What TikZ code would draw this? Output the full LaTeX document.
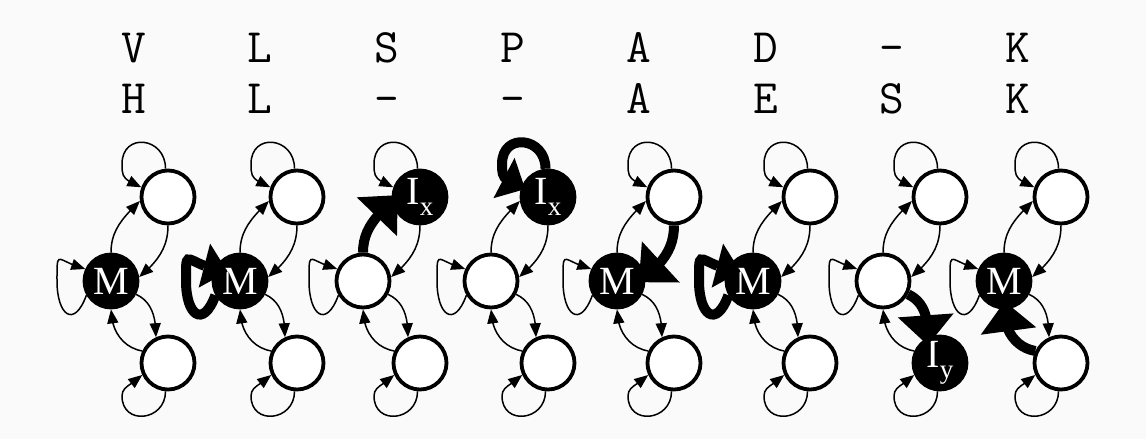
\documentclass[tikz,border=0pt]{standalone}
\usepackage{fontspec}
\setmainfont{Liberation Serif}
\usetikzlibrary{arrows.meta,bending}
\definecolor{bg}{RGB}{250,250,250}
\newcommand\lblsub[1]{\raisebox{-0.28em}{\fontsize{27}{27}\selectfont #1}}
\tikzset{
  state/.style={circle, draw=black, line width=3.8pt, minimum size=53pt, inner sep=0pt,
    font=\fontsize{40}{40}\selectfont, text=white},
  thinedge/.style={draw=black, line width=1.5pt, -{Triangle[length=14pt,width=11pt]}},
  boldedge/.style={draw=black, line width=10pt, -{Triangle[length=30pt,width=54pt]}, shorten >=-8pt},
  boldloop/.style={draw=black, line width=10pt, -{Triangle[length=24pt,width=44pt]}},
  hdr/.style={anchor=base, font=\ttfamily\fontsize{48}{48}\selectfont\addfontfeature{FakeStretch=1.15}},
  eMM/.style=thinedge, eMT/.style=thinedge, eTM/.style=thinedge, eMB/.style=thinedge,
  eBM/.style=thinedge, eTT/.style=thinedge, eBB/.style=thinedge, eNone/.style={},
  beMM/.style={boldloop, shorten >=-12pt}, beTT/.style={boldloop, shorten >=-4pt},
  beMT/.style=boldedge, beTM/.style=boldedge, beMB/.style=boldedge, beBM/.style=boldedge,
  beNone/.style={}
}
\begin{document}
\begin{tikzpicture}[x=1pt,y=1pt]
\fill[bg] (0,0) rectangle (1146,-439);
\useasboundingbox (0,0) rectangle (1146,-439);
\foreach \col/\xm/\fillM/\fillT/\fillB/\labM/\labT/\labB/\bo/\ra/\rb in {
  1/111/black/white/white/M/{}/{}/eNone/V/H,
  2/240/black/white/white/M/{}/{}/eMM/L/L,
  3/363/white/black/white/{}/{I\lblsub{x}}/{}/eMT/S/\textendash,
  4/491/white/black/white/{}/{I\lblsub{x}}/{}/eTT/P/\textendash,
  5/617/black/white/white/M/{}/{}/eTM/A/A,
  6/753/black/white/white/M/{}/{}/eMM/D/E,
  7/883/white/white/black/{}/{}/{I\lblsub{y}}/eMB/\textendash/S,
  8/1004/black/white/white/M/{}/{}/eBM/K/K}{
  \edef\tmp{\noexpand\tikzset{\bo/.style=b\bo}}\tmp
  \pgfmathsetmacro\hx{134+126.3*(\col-1)}
  \node[hdr] (r\col) at (\hx,-62) {\ra};
  \node[hdr] (s\col) at (\hx,-113) {\rb};
  \node[state, fill=\fillT] (T\col) at (\xm+57,-197) {\labT};
  \node[state, fill=\fillM] (M\col) at (\xm,-281) {\labM};
  \node[state, fill=\fillB] (B\col) at (\xm+57,-363) {\labB};
  % self loop on the top state
  \draw[eTT] (T\col.95) .. controls +(90:32) and +(90:32) .. ([shift={(-46,33)}]T\col.center)
             .. controls +(-90:14) and +(155:20) .. (T\col.160);
  \draw[eMT] (M\col.north) to[out=90,in=225] (T\col.188);
  \draw[eTM] (T\col.south) to[out=270,in=40] (M\col.8);
  \draw[eMB] (M\col.-28) to[out=-25,in=90] (B\col.115);
  \draw[eBM] (B\col.155) to[out=170,in=270] (M\col.south);
  % self loop on the bottom state
  \draw[eBB] (B\col.-95) .. controls +(-90:30) and +(-90:30) .. ([shift={(-46,-33)}]B\col.center)
             .. controls +(90:10) and +(225:14) .. (B\col.205);
  % self loop on the middle state
  \draw[eMM] (M\col.210) .. controls +(250:36) and +(-90:34) .. ([shift={(-54,0)}]M\col.center)
             .. controls +(90:34) and +(165:30) .. (M\col.155);
}
\end{tikzpicture}
\end{document}
